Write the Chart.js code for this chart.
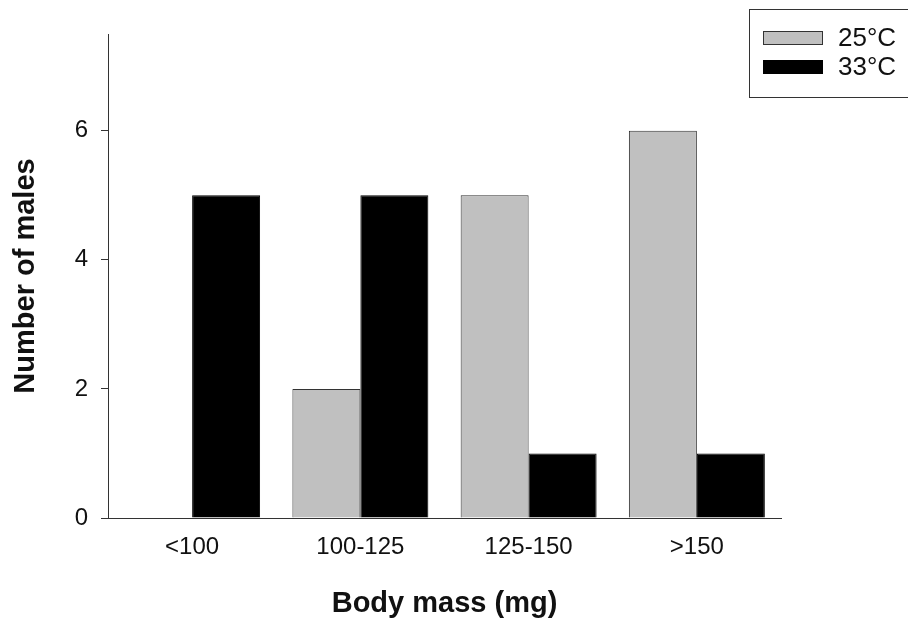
<!DOCTYPE html>
<html>
<head>
<meta charset="utf-8">
<script src="https://cdn.jsdelivr.net/npm/chart.js@4.4.1/dist/chart.umd.min.js"></script>
<style>
  html, body { margin: 0; padding: 0; background: #fff; }
  #wrap { width: 908px; height: 618px; }
</style>
</head>
<body>
<div id="wrap"><canvas id="chart"></canvas></div>
<script>
// data
const massClasses = ['<100', '100-125', '125-150', '>150'];
const males25 = [0, 2, 5, 6];
const males33 = [5, 5, 1, 1];
const yTicks = [0, 2, 4, 6];

const FONT = "'Liberation Sans', Arial, sans-serif";

// boxed legend in the top right corner (right edge runs off the canvas)
const boxLegend = {
    id: 'boxLegend',
    afterDraw(chart) {
        const ctx = chart.ctx;
        ctx.save();
        ctx.strokeStyle = '#333';
        ctx.lineWidth = 1;
        ctx.strokeRect(749.5, 9.5, 180, 88);
        chart.data.datasets.forEach(function(ds, i) {
            const y = 31 + i * 29;
            ctx.fillStyle = ds.backgroundColor;
            ctx.fillRect(763, y, 60, 14);
            ctx.strokeStyle = ds.borderColor;
            ctx.strokeRect(763.5, y + 0.5, 59, 13);
            ctx.fillStyle = '#111';
            ctx.font = '26px ' + FONT;
            ctx.textBaseline = 'middle';
            ctx.fillText(ds.label, 838, y + 7.5);
        });
        ctx.restore();
    }
};

new Chart(document.getElementById('chart').getContext('2d'), {
    type: 'bar',
    data: {
        labels: massClasses,
        datasets: [{
            label: '25°C',
            data: males25,
            backgroundColor: '#c0c0c0',
            borderColor: '#333',
            borderWidth: 1
        }, {
            label: '33°C',
            data: males33,
            backgroundColor: '#000',
            borderColor: '#000',
            borderWidth: 1
        }]
    },
    options: {
        responsive: true,
        maintainAspectRatio: false,
        animation: false,
        categoryPercentage: 0.808,
        barPercentage: 1,
        layout: { padding: { top: 34, right: 127, left: 0, bottom: 0 } },
        plugins: {
            legend: { display: false },
            tooltip: { enabled: false }
        },
        scales: {
            x: {
                afterFit: function(s) { s.height = 100; },
                grid: { drawOnChartArea: false, drawTicks: false },
                border: { display: true, color: '#333', width: 1 },
                ticks: { color: '#111', font: { family: FONT, size: 24 }, padding: 15 },
                title: {
                    display: true,
                    text: 'Body mass (mg)',
                    color: '#111',
                    font: { family: FONT, size: 29, weight: 'bold', lineHeight: 1 },
                    padding: { top: 0, bottom: 0 }
                }
            },
            y: {
                min: 0,
                max: 7.5,
                afterFit: function(s) { s.width = 108; },
                afterBuildTicks: function(s) { s.ticks = yTicks.map(function(v) { return { value: v }; }); },
                grid: { drawOnChartArea: false, tickLength: 7, color: '#333' },
                border: { display: true, color: '#333', width: 1 },
                ticks: { color: '#111', font: { family: FONT, size: 24 }, padding: 13 },
                title: {
                    display: true,
                    text: 'Number of males',
                    color: '#111',
                    font: { family: FONT, size: 29, weight: 'bold', lineHeight: 1 },
                    padding: { top: 11, bottom: 0 }
                }
            }
        }
    },
    plugins: [boxLegend]
});
</script>
</body>
</html>
